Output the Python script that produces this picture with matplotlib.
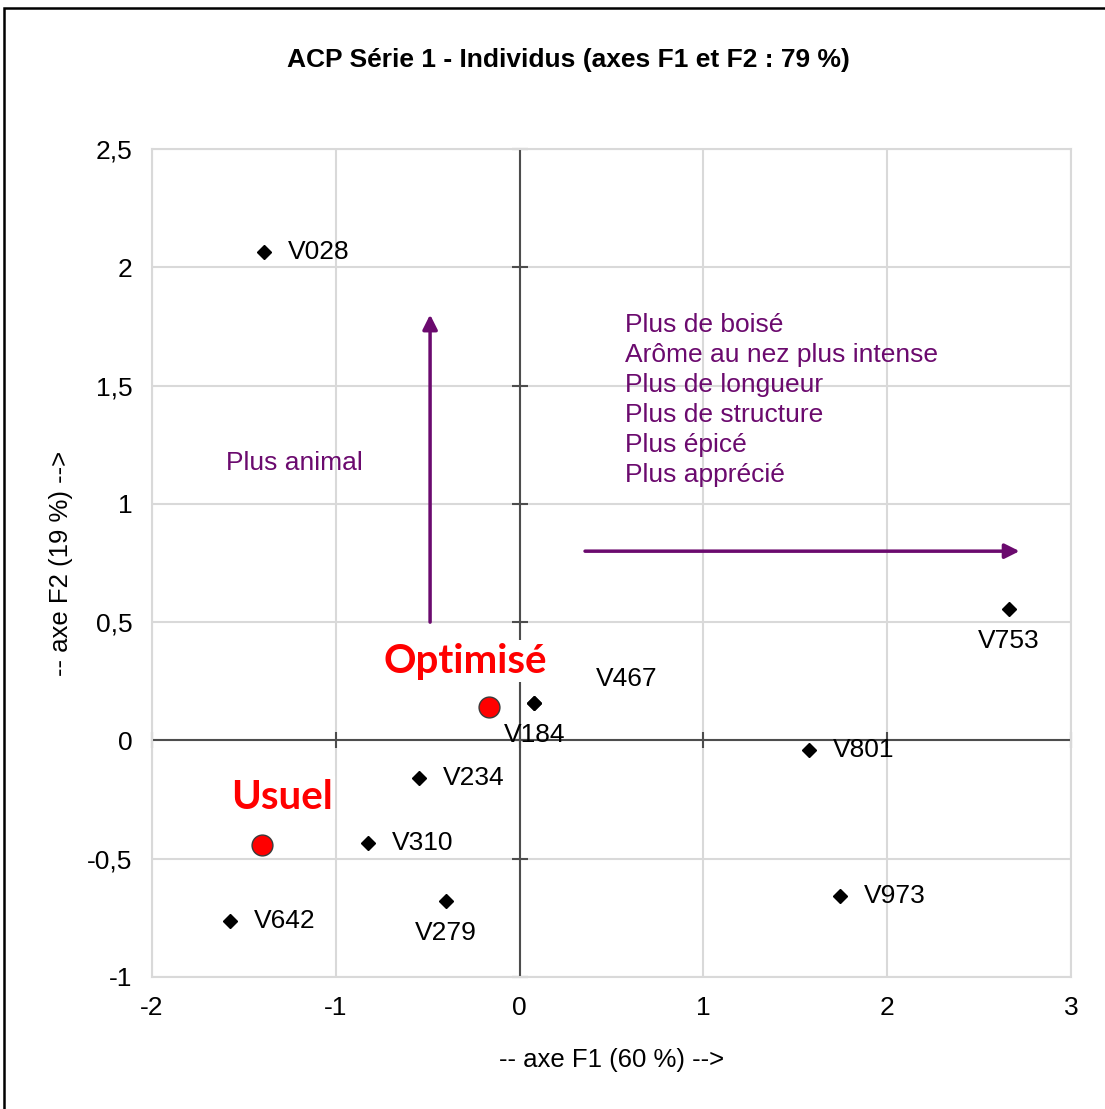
import matplotlib
matplotlib.use("Agg")
import matplotlib.pyplot as plt
from matplotlib.patches import Rectangle

plt.rcParams['font.family'] = ['Liberation Sans', 'DejaVu Sans']

# Data
names = ["V028", "V753", "V467", "V184", "V801", "V234", "V310", "V279", "V642", "V973"]
f1 = [-1.39, 2.66, 0.08, 0.08, 1.575, -0.547, -0.825, -0.40, -1.576, 1.743]
f2 = [2.065, 0.556, 0.159, 0.159, -0.04, -0.158, -0.433, -0.678, -0.763, -0.657]
label_pos = ["right", "below", "upright", "below", "right", "right", "right", "below", "right", "right"]

special_names = ["Optimisé", "Usuel"]
special_f1 = [-0.166, -1.40]
special_f2 = [0.142, -0.442]
special_text_xy = [(-0.297, 0.335), (-1.295, -0.24)]

xticks = [-2, -1, 0, 1, 2, 3]
yticks = [-1, -0.5, 0, 0.5, 1, 1.5, 2, 2.5]
ytick_labels = ["-1", "-0,5", "0", "0,5", "1", "1,5", "2", "2,5"]

right_lines = ["Plus de boisé", "Arôme au nez plus intense", "Plus de longueur",
               "Plus de structure", "Plus épicé", "Plus apprécié"]
right_text_y = [1.756, 1.628, 1.502, 1.375, 1.248, 1.122]
right_text_x = 0.573
left_text = "Plus animal"
left_text_xy = (-1.597, 1.173)
varrow = ((-0.487, 0.50), (-0.487, 1.80))
harrow = ((0.356, 0.80), (2.72, 0.80))

purple = "#6B0A6E"
dark = "#4D4D4D"
grid = "#D9D9D9"

fig = plt.figure(figsize=(11.05, 11.09), dpi=100)
ax = fig.add_axes([152/1105, 1-977/1109, (1071-152)/1105, (977-149)/1109])
ax.set_xlim(xticks[0], xticks[-1])
ax.set_ylim(yticks[0], yticks[-1])
ax.set_xticks(xticks)
ax.set_yticks(yticks)
ax.set_xticklabels([str(t) for t in xticks], fontsize=19)
ax.set_yticklabels(ytick_labels, fontsize=19)
ax.tick_params(length=0, pad=14)
ax.grid(True, color=grid, lw=1.5, zorder=0)
for s in ax.spines.values():
    s.set_color(grid)
    s.set_linewidth(1.5)

ax.axhline(0, color=dark, lw=1.5, zorder=2)
ax.axvline(0, color=dark, lw=1.5, zorder=2)
ax.plot(xticks, [0]*len(xticks), ls='none', marker='|', ms=12, mew=1.5, color=dark, zorder=2, clip_on=False)
ax.plot([0]*len(yticks), yticks, ls='none', marker='_', ms=12, mew=1.5, color=dark, zorder=2, clip_on=False)

ax.set_xlabel("-- axe F1 (60 %) -->", fontsize=18.5, labelpad=20)
ax.set_ylabel("-- axe F2 (19 %) -->", fontsize=18.5, labelpad=10)
fig.text(568/1105, 1-60/1109, "ACP Série 1 - Individus (axes F1 et F2 : 79 %)",
         ha='center', va='center', fontsize=19, fontweight='bold')

# points
ax.plot(f1, f2, ls='none', marker='D', ms=7, color='black', zorder=4)
offsets = {"right": ((17, 0), 'left', 'center'),
           "below": ((0, -23), 'center', 'center'),
           "upright": ((44, 17), 'left', 'center')}
for n, x, y, p in zip(names, f1, f2, label_pos):
    off, ha, va = offsets[p]
    ax.annotate(n, (x, y), xytext=off, textcoords='offset points', ha=ha, va=va,
                fontsize=19, zorder=5)

ax.plot(special_f1, special_f2, ls='none', marker='o', ms=15, mfc='#FF0000', mec='#3a3a3a', mew=1, zorder=6)
for n, (tx, ty) in zip(special_names, special_text_xy):
    ax.text(tx, ty, n, ha='center', va='center', color='#FF0000', fontsize=29,
            fontweight='bold', family=['Lato', 'DejaVu Sans'], zorder=7,
            bbox=dict(facecolor='white', edgecolor='none', pad=2))

# annotations
ax.annotate("", xy=varrow[1], xytext=varrow[0],
            arrowprops=dict(arrowstyle='-|>', color=purple, lw=2.5, mutation_scale=22, shrinkA=0, shrinkB=0), zorder=3)
ax.annotate("", xy=harrow[1], xytext=harrow[0],
            arrowprops=dict(arrowstyle='-|>', color=purple, lw=2.5, mutation_scale=22, shrinkA=0, shrinkB=0), zorder=3)
ax.text(left_text_xy[0], left_text_xy[1], left_text, color=purple, fontsize=19, ha='left', va='center')
for line, y in zip(right_lines, right_text_y):
    ax.text(right_text_x, y, line, color=purple, fontsize=19, ha='left', va='center')

fig.patches.append(Rectangle((4/1105, -0.05), 1.2, 1-8/1109+0.05, transform=fig.transFigure,
                             fill=False, edgecolor='black', lw=1.8))

fig.savefig("out.png", dpi=100)
